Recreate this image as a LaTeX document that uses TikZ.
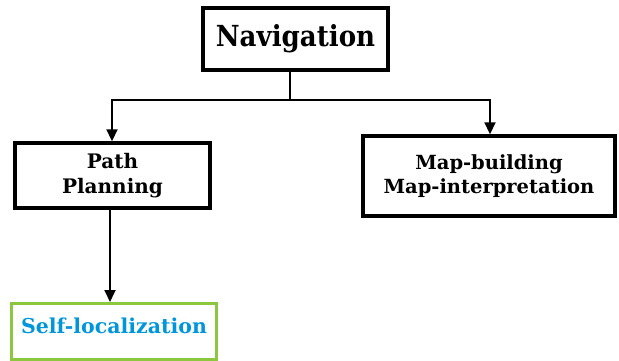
\documentclass[tikz,border=0pt]{standalone}
\usepackage{fontspec}
\setmainfont{DejaVu Serif}
\newfontfamily\navfont{DejaVu Serif Condensed}
\usetikzlibrary{arrows.meta}
\definecolor{locblue}{RGB}{0,150,219}
\definecolor{locgreen}{RGB}{141,198,63}
\begin{document}
\begin{tikzpicture}[x=1pt,y=-1pt,
  box/.style={draw=black,line width=3.4pt,inner sep=0pt,align=center,font=\bfseries},
  link/.style={line width=1.8pt,-{Triangle[length=12pt,width=11pt]}}]
\useasboundingbox (0,0) rectangle (619,360);
% boxes
\node[box,minimum width=185pt,minimum height=62pt,font=\navfont\bfseries\fontsize{29}{32}\selectfont] (nav) at (295.5,39) {Navigation};
\node[box,minimum width=195pt,minimum height=65pt,font=\bfseries\fontsize{20}{25}\selectfont] (path) at (112.5,175.5) {Path\\Planning};
\node[box,minimum width=252pt,minimum height=80pt,font=\bfseries\fontsize{19.5}{25}\selectfont] (map) at (489,176) {\raisebox{3pt}{\begin{tabular}{@{}c@{}}Map-building\\[-1pt]Map-interpretation\end{tabular}}};
\node[box,line width=3pt,draw=locgreen,text=locblue,minimum width=205pt,minimum height=56pt,font=\bfseries\fontsize{20.5}{24}\selectfont,anchor=north west] (loc) at (10,302) {\raisebox{12pt}{Self-localization}};
% connectors
\coordinate (split) at (290,100);
\draw[line width=1.8pt] (nav.south -| split) -- (split);
\draw[link] (split) -| (path.north -| 112,0);
\draw[link] (split) -| (map.north -| 490,0);
\draw[link] (path.south -| 110,0) -- (loc.north -| 110,0);
\end{tikzpicture}
\end{document}
